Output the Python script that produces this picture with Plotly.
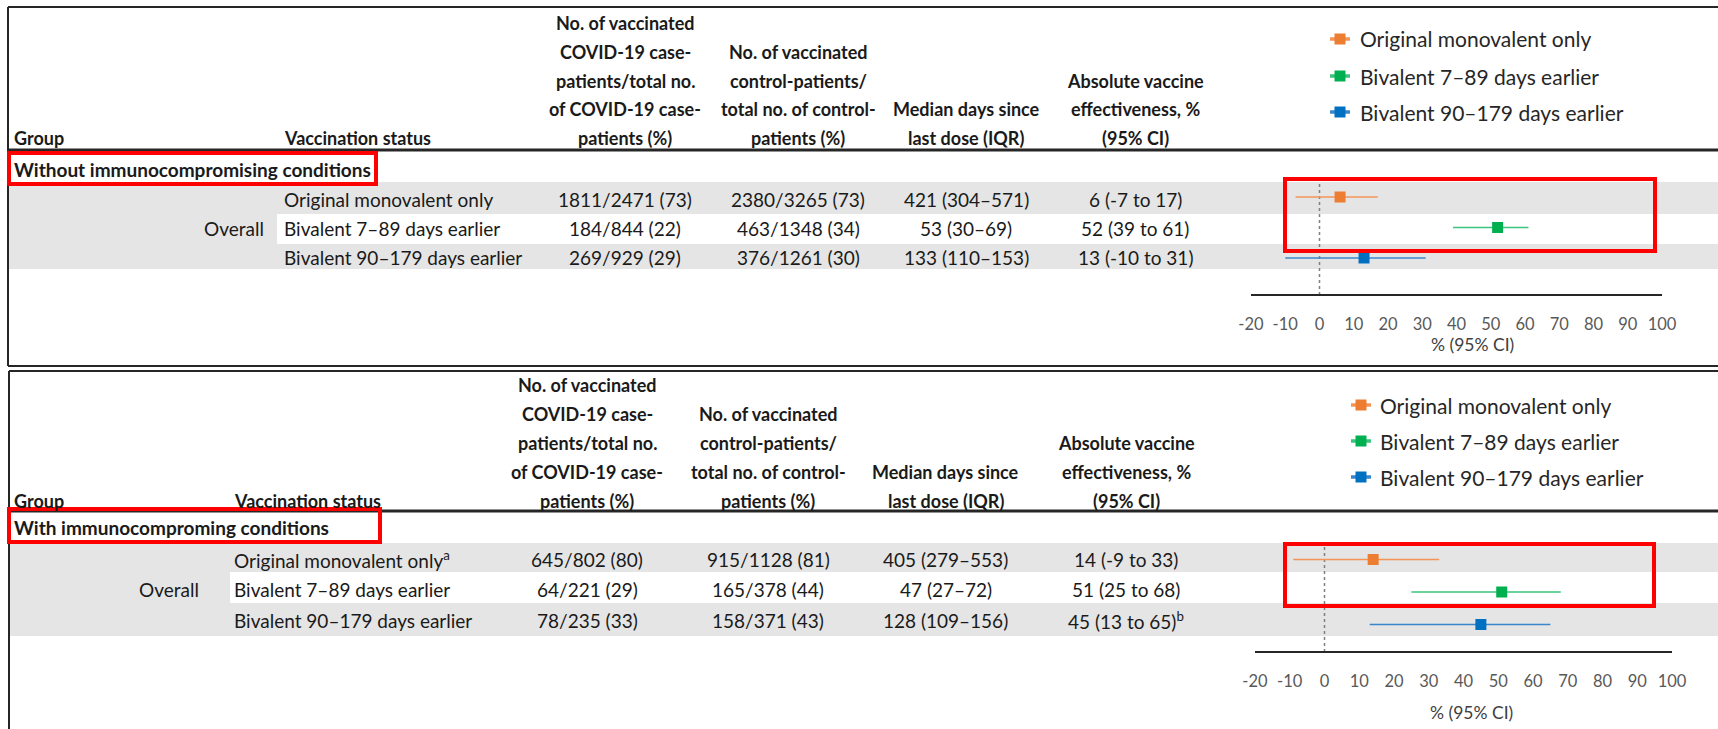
import plotly.graph_objects as go

W, H = 1718, 729

# ---------------- data ----------------
series_names = ["Original monovalent only", "Bivalent 7–89 days earlier", "Bivalent 90–179 days earlier"]
series_colors = ["#ED7D31", "#00B050", "#0070C0"]
line_colors = ["#F29556", "#3CC47C", "#3A86CC"]

group_top = "Without immunocompromising conditions"
group_bot = "With immunocomproming conditions"
subgroup = "Overall"

status_top = ["Original monovalent only", "Bivalent 7–89 days earlier", "Bivalent 90–179 days earlier"]
status_bot = ["Original monovalent only<sup>a</sup>", "Bivalent 7–89 days earlier", "Bivalent 90–179 days earlier"]

cases_top = ["1811/2471 (73)", "184/844 (22)", "269/929 (29)"]
controls_top = ["2380/3265 (73)", "463/1348 (34)", "376/1261 (30)"]
median_top = ["421 (304–571)", "53 (30–69)", "133 (110–153)"]
ve_top = [6, 52, 13]
lo_top = [-7, 39, -10]
hi_top = [17, 61, 31]
ve_note_top = ["", "", ""]

cases_bot = ["645/802 (80)", "64/221 (29)", "78/235 (33)"]
controls_bot = ["915/1128 (81)", "165/378 (44)", "158/371 (43)"]
median_bot = ["405 (279–553)", "47 (27–72)", "128 (109–156)"]
ve_bot = [14, 51, 45]
lo_bot = [-9, 25, 13]
hi_bot = [33, 68, 65]
ve_note_bot = ["", "", "<sup>b</sup>"]

tick_vals = [-20, -10, 0, 10, 20, 30, 40, 50, 60, 70, 80, 90, 100]
tick_text = ["-20", "-10", "0", "10", "20", "30", "40", "50", "60", "70", "80", "90", "100"]
axis_title = "% (95% CI)"

hdr_group = "Group"
hdr_status = "Vaccination status"
hdr_col1 = ["No. of vaccinated", "COVID-19 case-", "patients/total no.", "of COVID-19 case-", "patients (%)"]
hdr_col2 = ["No. of vaccinated", "control-patients/", "total no. of control-", "patients (%)"]
hdr_col3 = ["Median days since", "last dose (IQR)"]
hdr_col4 = ["Absolute vaccine", "effectiveness, %", "(95% CI)"]

# ---------------- helpers ----------------
FONT = "Lato"
TXT = "#1a1a1a"
BODY = 19
HEAD = 18
GROUPF = 19
LEGF = 21
shapes, annotations = [], []


def X(px):
    return px / W


def Y(py):
    return 1 - py / H


def text(x, y, s, anchor="center", bold=False, size=BODY, color=TXT):
    annotations.append(dict(
        x=X(x), y=Y(y), xref="paper", yref="paper", text=s, showarrow=False,
        xanchor=anchor, yanchor="middle", borderpad=0,
        font=dict(family=FONT, size=size, color=color, weight="bold" if bold else "normal")))


def hline(y, x0, x1, w=2, color="#262626"):
    shapes.append(dict(type="line", xref="paper", yref="paper", x0=X(x0), x1=X(x1), y0=Y(y), y1=Y(y),
                       line=dict(color=color, width=w)))


def vline(x, y0, y1, w=2, color="#262626"):
    shapes.append(dict(type="line", xref="paper", yref="paper", x0=X(x), x1=X(x), y0=Y(y0), y1=Y(y1),
                       line=dict(color=color, width=w)))


def rect(x0, y0, x1, y1, fill=None, line=None, lw=0, layer="below"):
    d = dict(type="rect", xref="paper", yref="paper", x0=X(x0), x1=X(x1), y0=Y(y0), y1=Y(y1),
             layer=layer, line=dict(width=lw, color=line or "rgba(0,0,0,0)"))
    d["fillcolor"] = fill or "rgba(0,0,0,0)"
    shapes.append(d)


GRAY = "#E5E5E5"

panels = [
    dict(  # top panel
        top=7, bottom=366, left=8, header_line=150, hdr_last=138, hdr_step=28.7,
        status_x=283, overall_right=265, cols=[625, 798, 966, 1135],
        group=group_top, group_y=170, group_box=(9, 153, 376, 184),
        rows_y=[199, 228, 258], band=(182, 214, 244, 269), white_x=277,
        status=status_top, cases=cases_top, controls=controls_top, median=median_top,
        ve=ve_top, lo=lo_top, hi=hi_top, note=ve_note_top,
        leg_mark=1340, leg_text=1359, leg_y=[39, 76, 112],
        ax_x0=1251, ax_x1=1662, ax_y=295, tick_y=320, title_y=345, title_x=1472,
        fy0=197, fy2=258, dash_top=178, red=(1285, 179, 1655, 251),
        xa="xaxis", ya="yaxis", xr="x", yr="y"),
    dict(  # bottom panel
        top=371, bottom=None, left=9, header_line=511, hdr_last=501, hdr_step=29,
        status_x=233, overall_right=200, cols=[587, 768, 946, 1126],
        group=group_bot, group_y=527, group_box=(9, 509, 380, 542),
        rows_y=[559, 589, 620], band=(543, 572, 603, 636), white_x=230,
        status=status_bot, cases=cases_bot, controls=controls_bot, median=median_bot,
        ve=ve_bot, lo=lo_bot, hi=hi_bot, note=ve_note_bot,
        leg_mark=1361, leg_text=1379, leg_y=[405, 441, 477],
        ax_x0=1255, ax_x1=1672, ax_y=652, tick_y=677, title_y=712, title_x=1471,
        fy0=559.5, fy2=624.5, dash_top=543, red=(1285, 544, 1654, 606),
        xa="xaxis2", ya="yaxis2", xr="x2", yr="y2"),
]

fig = go.Figure()
layout_axes = {}

for p in panels:
    # borders
    hline(p["top"], p["left"], W, w=2)
    vline(p["left"], p["top"], p["bottom"] if p["bottom"] else H, w=2)
    if p["bottom"]:
        hline(p["bottom"], p["left"], W, w=2)
    hline(p["header_line"], p["left"], W, w=3)

    # row bands
    b0, b1, b2, b3 = p["band"]
    rect(p["left"] + 1, b0, W, b3, fill=GRAY)
    rect(p["white_x"], b1, W, b2, fill="white")

    # header texts
    text(13, p["hdr_last"], hdr_group, anchor="left", bold=True, size=HEAD)
    text(p["status_x"], p["hdr_last"], hdr_status, anchor="left", bold=True, size=HEAD)
    for col_x, lines in zip(p["cols"], [hdr_col1, hdr_col2, hdr_col3, hdr_col4]):
        n = len(lines)
        for k, line in enumerate(lines):
            text(col_x, p["hdr_last"] - (n - 1 - k) * p["hdr_step"], line, bold=True, size=HEAD)

    # group heading + highlight
    text(13, p["group_y"], p["group"], anchor="left", bold=True, size=GROUPF)
    gx0, gy0, gx1, gy1 = p["group_box"]
    rect(gx0, gy0, gx1, gy1, line="#FF0000", lw=4, layer="above")

    # rows
    text(p["overall_right"], p["rows_y"][1], subgroup, anchor="right")
    for i, ry in enumerate(p["rows_y"]):
        text(p["status_x"], ry, p["status"][i], anchor="left")
        text(p["cols"][0], ry, p["cases"][i])
        text(p["cols"][1], ry, p["controls"][i])
        text(p["cols"][2], ry, p["median"][i])
        text(p["cols"][3], ry, f"{p['ve'][i]} ({p['lo'][i]} to {p['hi'][i]}){p['note'][i]}")

    # legend (manual)
    for name, col, lcol, ly in zip(series_names, series_colors, line_colors, p["leg_y"]):
        hline(ly, p["leg_mark"] - 10, p["leg_mark"] + 10, w=3.5, color=lcol)
        rect(p["leg_mark"] - 5.5, ly - 5.5, p["leg_mark"] + 5.5, ly + 5.5, fill=col, layer="above")
        text(p["leg_text"], ly, name, anchor="left", size=LEGF, color="#262626")

    # forest traces
    for i, (name, col, lcol) in enumerate(zip(series_names, series_colors, line_colors)):
        fig.add_trace(go.Scatter(
            x=[p["ve"][i]], y=[i], xaxis=p["xr"], yaxis=p["yr"], mode="markers", name=name,
            showlegend=False, cliponaxis=False,
            marker=dict(symbol="square", size=11, color=col),
            error_x=dict(type="data", symmetric=False, array=[p["hi"][i] - p["ve"][i]],
                         arrayminus=[p["ve"][i] - p["lo"][i]], color=lcol, thickness=1.6, width=0),
        ))

    # axes
    step = (p["fy2"] - p["fy0"]) / 2
    layout_axes[p["xa"]] = dict(
        domain=[X(p["ax_x0"]), X(p["ax_x1"])], range=[-20, 100], anchor="free", position=Y(p["ax_y"]),
        showline=True, linecolor="#262626", linewidth=1.5, showgrid=False, zeroline=False,
        tickvals=tick_vals, ticktext=tick_text, ticks="outside", ticklen=14, tickcolor="rgba(0,0,0,0)",
        tickfont=dict(family=FONT, size=16.5, color="#595959"), fixedrange=True, automargin=False)
    layout_axes[p["ya"]] = dict(
        domain=[Y(p["fy2"] + step * 0.5), Y(p["fy0"] - step * 0.5)],
        range=[2.5, -0.5], visible=False, fixedrange=True, anchor=p["xr"], automargin=False)

    # zero reference line
    shapes.append(dict(type="line", xref=p["xr"], yref="paper", x0=0, x1=0,
                       y0=Y(p["ax_y"]), y1=Y(p["dash_top"]), layer="below",
                       line=dict(color="#808080", width=1.5, dash="dot")))
    text(p["title_x"], p["title_y"], axis_title, size=17.5, color="#404040")

    # forest highlight
    rx0, ry0, rx1, ry1 = p["red"]
    rect(rx0, ry0, rx1, ry1, line="#FF0000", lw=4, layer="above")

fig.update_layout(
    template="none",
    width=W, height=H, autosize=False,
    margin=dict(l=0, r=0, t=0, b=0, pad=0, autoexpand=False),
    paper_bgcolor="white", plot_bgcolor="rgba(0,0,0,0)",
    shapes=shapes, annotations=annotations, showlegend=False,
    font=dict(family=FONT, color=TXT),
    **layout_axes,
)

fig.write_html(
    "out.html",
    config={"displayModeBar": False, "responsive": False},
    post_script="document.body.style.margin='0';document.body.style.padding='0';document.body.style.overflow='hidden';",
)
